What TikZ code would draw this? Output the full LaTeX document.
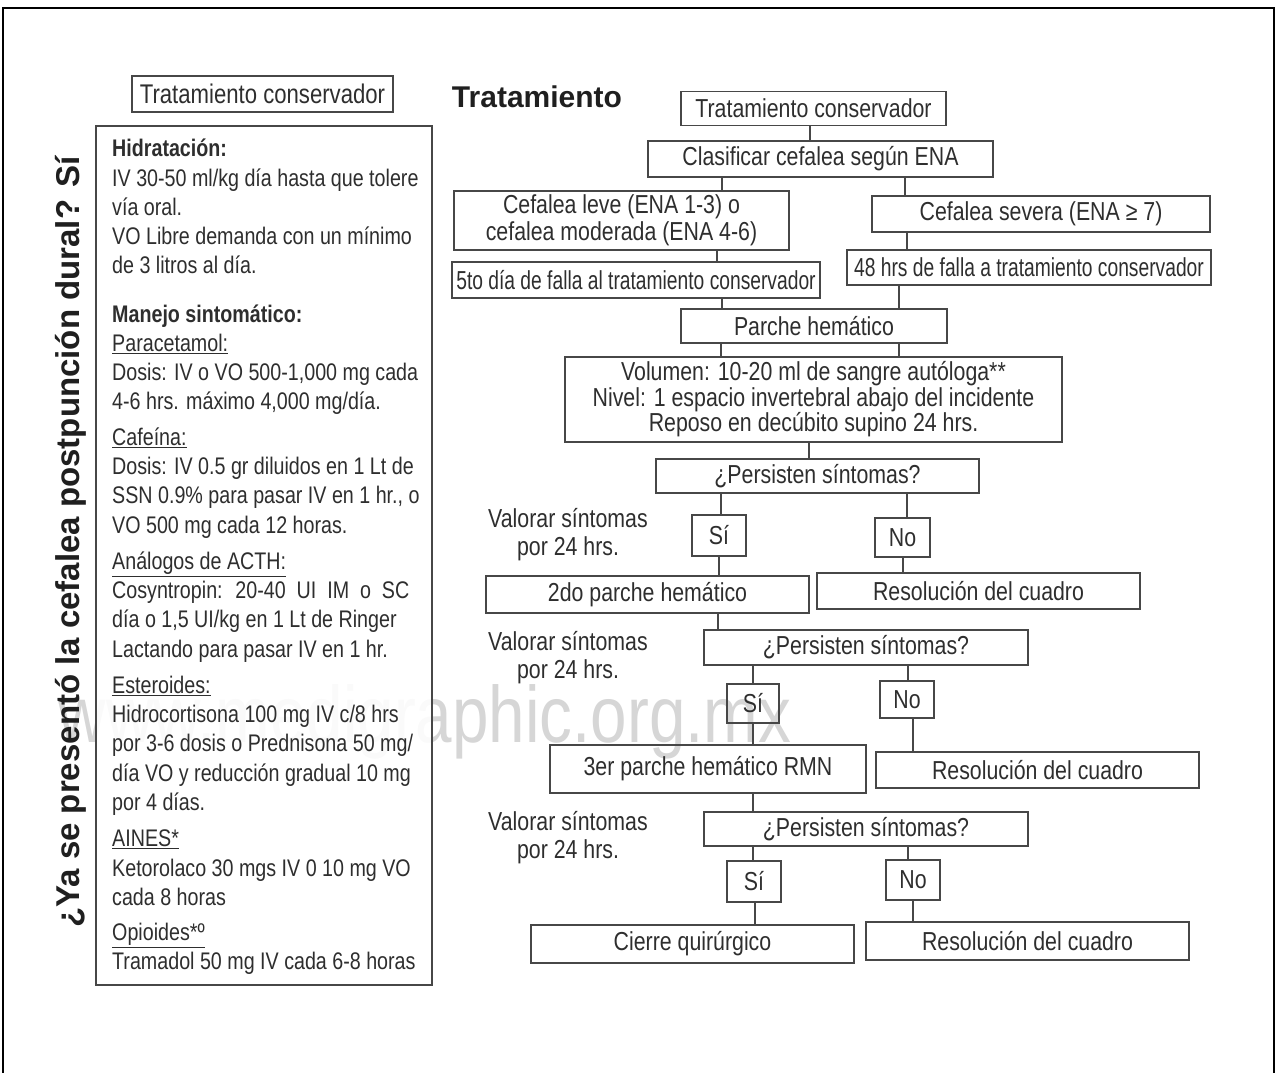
\documentclass[tikz,border=0pt]{standalone}
\usepackage{fontspec}
\setmainfont[FakeStretch=0.82]{Liberation Sans}
\newfontfamily\anchafont{Liberation Sans}
\newfontfamily\estrechafont[FakeStretch=0.74]{Liberation Sans}

\tikzset{
  caja/.style 2 args={draw=black!72, line width=1.8pt, inner sep=0pt, text=black!82,
    minimum width=#1, minimum height=#2, align=center, font=\fontsize{26}{26}\selectfont},
  enlace/.style={draw=black!72, line width=1.8pt},
  nota/.style={align=center, text=black!82, font=\fontsize{26}{28}\selectfont},
}

\begin{document}
\begin{tikzpicture}[x=1pt, y=-1pt]
            \useasboundingbox (0,0) rectangle (1277,1073);
            % Watermark and frame
            \node[text=black!16, font=\fontsize{80}{80}\selectfont, anchor=base east] (marca) at (795,742) {www.medigraphic.org.mx};
            \draw[line width=2.6pt] (3,1073) -- (3,8) -- (1274,8) -- (1274,1073);

            % Left column
            \node[rotate=90, text=black!88, font=\anchafont\fontsize{33}{33}\selectfont\bfseries] (pregunta) at (71,542) {¿Ya se presentó la cefalea postpunción dural? Sí};
            \node[caja={261pt}{36pt}, font=\fontsize{27}{27}\selectfont] (conservador) at (262.5,94) {Tratamiento conservador};
            \node[draw=black!72, line width=1.8pt, fill=white, fill opacity=0.88, minimum width=336pt, minimum height=859pt] (manejo) at (264,555.5) {};
            \node[anchor=north west, align=left, inner sep=0pt, text=black!82, font=\fontsize{24}{29.27}\selectfont] (indicaciones) at (112,139) {%
              \textbf{Hidratación:}\\
              IV 30-50 ml/kg día hasta que tolere\\
              vía oral.\\
              VO Libre demanda con un mínimo\\
              de 3 litros al día.\\[19pt]
              \textbf{Manejo sintomático:}\\
              \underline{Paracetamol:}\\
              Dosis: IV o VO 500-1,000 mg cada\\
              4-6 hrs. máximo 4,000 mg/día.\\[6pt]
              \underline{Cafeína:}\\
              Dosis: IV 0.5 gr diluidos en 1 Lt de\\
              SSN 0.9\% para pasar IV en 1 hr., o\\
              VO 500 mg cada 12 horas.\\[7pt]
              \underline{Análogos de ACTH:}\\
              Cosyntropin: \ 20-40 \ UI \ IM \ o \ SC\\
              día o 1,5 UI/kg en 1 Lt de Ringer\\
              Lactando para pasar IV en 1 hr.\\[7pt]
              \underline{Esteroides:}\\
              Hidrocortisona 100 mg IV c/8 hrs\\
              por 3-6 dosis o Prednisona 50 mg/\\
              día VO y reducción gradual 10 mg\\
              por 4 días.\\[7pt]
              \underline{AINES*}\\
              Ketorolaco 30 mgs IV 0 10 mg VO\\
              cada 8 horas\\[6pt]
              \underline{Opioides*º}\\
              Tramadol 50 mg IV cada 6-8 horas};

            % Flowchart nodes
            \node[text=black!88, font=\anchafont\fontsize{30}{30}\selectfont\bfseries] (titulo) at (537,97) {Tratamiento};
            \node[caja={265pt}{34pt}] (n1) at (813.5,108.5) {Tratamiento conservador};
            \node[caja={345pt}{36pt}] (n2) at (820.5,159) {Clasificar cefalea según ENA};
            \node[caja={335pt}{59pt}, font=\fontsize{26}{27}\selectfont] (n3) at (621.5,220.5) {Cefalea leve (ENA 1-3) o\\cefalea moderada (ENA 4-6)};
            \node[caja={338pt}{36pt}] (n4) at (1041,214) {Cefalea severa (ENA ≥ 7)};
            \node[caja={368pt}{36pt}, font=\estrechafont\fontsize{26}{26}\selectfont] (n5) at (636,280) {5to día de falla al tratamiento conservador};
            \node[caja={364pt}{35pt}, font=\estrechafont\fontsize{26}{26}\selectfont] (n6) at (1029,267.5) {48 hrs de falla a tratamiento conservador};
            \node[caja={266pt}{34pt}] (n7) at (814,326) {Parche hemático};
            \node[caja={497pt}{85pt}, font=\fontsize{26}{25.5}\selectfont] (n8) at (813.5,399.5) {Volumen: 10-20 ml de sangre autóloga**\\Nivel: 1 espacio invertebral abajo del incidente\\Reposo en decúbito supino 24 hrs.};
            \node[caja={323pt}{34pt}] (n9) at (817.5,476) {¿Persisten síntomas?};
            \node[caja={54pt}{41pt}] (si1) at (719,535.5) {Sí};
            \node[caja={55pt}{39pt}] (no1) at (902.5,537.5) {No};
            \node[nota] (valorar1) at (568,535) {Valorar síntomas\\por 24 hrs.};
            \node[caja={323pt}{37pt}] (n10) at (647.5,594.5) {2do parche hemático};
            \node[caja={323pt}{36pt}] (fin1) at (978.5,591) {Resolución del cuadro};
            \node[caja={324pt}{35pt}] (n11) at (866,647.5) {¿Persisten síntomas?};
            \node[nota] (valorar2) at (568,658) {Valorar síntomas\\por 24 hrs.};
            \node[caja={52pt}{39pt}] (si2) at (753,703.5) {Sí};
            \node[caja={54pt}{37pt}] (no2) at (907,699.5) {No};
            \node[caja={316pt}{48pt}] (n12) at (708,769) {3er parche hemático RMN};
            \node[caja={323pt}{36pt}] (fin2) at (1037.5,770) {Resolución del cuadro};
            \node[caja={324pt}{34pt}] (n13) at (866,829) {¿Persisten síntomas?};
            \node[nota] (valorar3) at (568,838) {Valorar síntomas\\por 24 hrs.};
            \node[caja={54pt}{41pt}] (si3) at (754,881.5) {Sí};
            \node[caja={54pt}{40pt}] (no3) at (913,880) {No};
            \node[caja={323pt}{38pt}] (n14) at (692.5,944) {Cierre quirúrgico};
            \node[caja={323pt}{38pt}] (fin3) at (1027.5,941) {Resolución del cuadro};

            % The lines
            \draw[enlace] (n1.south -| 810,0) -- (n2.north -| 810,0);
            \draw[enlace] (n2.south -| 722,0) -- (n3.north -| 722,0);
            \draw[enlace] (n2.south -| 905,0) -- (n4.north -| 905,0);
            \draw[enlace] (n3.south -| 717,0) -- (n5.north -| 717,0);
            \draw[enlace] (n4.south -| 907,0) -- (n6.north -| 907,0);
            \draw[enlace] (n5.south -| 722,0) -- (n7.north -| 722,0);
            \draw[enlace] (n6.south -| 899,0) -- (n7.north -| 899,0);
            \draw[enlace] (n7.south -| 721,0) -- (n8.north -| 721,0);
            \draw[enlace] (n7.south -| 899,0) -- (n8.north -| 899,0);
            \draw[enlace] (n8.south -| 809,0) -- (n9.north -| 809,0);
            \draw[enlace] (n9.south -| 721,0) -- (si1.north -| 721,0);
            \draw[enlace] (n9.south -| 907,0) -- (no1.north -| 907,0);
            \draw[enlace] (si1.south -| 719,0) -- (n10.north -| 719,0);
            \draw[enlace] (no1.south -| 903,0) -- (fin1.north -| 903,0);
            \draw[enlace] (n10.south -| 718,0) -- (n11.north -| 718,0);
            \draw[enlace] (n11.south -| 753,0) -- (si2.north -| 753,0);
            \draw[enlace] (n11.south -| 908,0) -- (no2.north -| 908,0);
            \draw[enlace] (si2.south -| 753,0) -- (n12.north -| 753,0);
            \draw[enlace] (no2.south -| 913,0) -- (fin2.north -| 913,0);
            \draw[enlace] (n12.south -| 753,0) -- (n13.north -| 753,0);
            \draw[enlace] (n13.south -| 753,0) -- (si3.north -| 753,0);
            \draw[enlace] (n13.south -| 908,0) -- (no3.north -| 908,0);
            \draw[enlace] (si3.south -| 755,0) -- (n14.north -| 755,0);
            \draw[enlace] (no3.south -| 913,0) -- (fin3.north -| 913,0);
\end{tikzpicture}
\end{document}
